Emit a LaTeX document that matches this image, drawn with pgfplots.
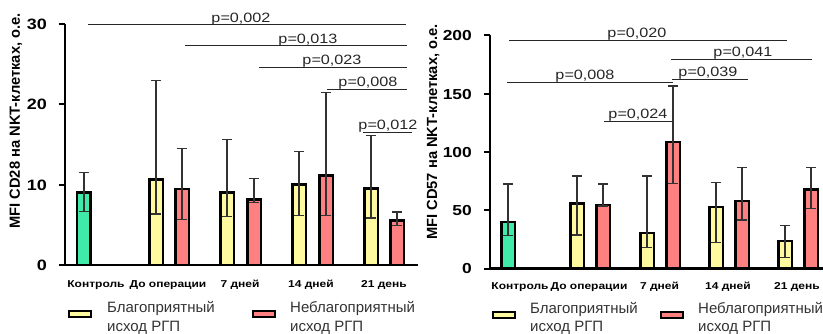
\documentclass[border=0pt]{standalone}
\usepackage{fontspec}
\setmainfont{Liberation Sans}
\newfontfamily\wf[FakeStretch=1.2]{Liberation Sans}
\usepackage{pgfplots}
\pgfplotsset{compat=1.18}
\definecolor{cgreen}{RGB}{64,235,170}
\definecolor{cyellow}{RGB}{255,250,160}
\definecolor{cred}{RGB}{255,128,128}
\definecolor{ebar}{RGB}{50,50,50}
\pgfplotsset{
 mystyle/.style={
  scale only axis, clip=false,
  axis x line*=bottom, axis y line*=left,
  axis line style={line width=2.3pt, -},
  xtick style={draw=none},
  ytick style={line width=2pt, black},
  tick align=outside, major tick length=6pt,
  /pgf/number format/assume math mode=true,
  yticklabel style={font=\wf\bfseries\fontsize{15}{15}\selectfont, anchor=base east, inner sep=0pt, xshift=-12pt, yshift=-5.4pt},
  xticklabel style={font=\wf\bfseries\fontsize{10}{10}\selectfont, anchor=base, inner sep=0pt},
  ylabel style={font=\bfseries\fontsize{14.7}{15}\selectfont, anchor=center},
 },
 mybar/.style={ybar, bar shift=0pt, bar width=13.5, draw=black, line width=2.5pt,
   error bars/y dir=both, error bars/y explicit,
   error bars/error bar style={line width=1.3pt, ebar},
   error bars/error mark options={rotate=90, line width=1.3pt, ebar, mark size=5pt}},
 pline/.style={line width=1.1pt, black!85},
}
\tikzset{legtext/.style={anchor=base west, inner sep=0pt, font=\fontsize{15}{15}\selectfont, text=black!80},
 ptext/.style={anchor=base, inner sep=0pt, yshift=2.5pt, font=\wf\fontsize{13.5}{14}\selectfont, text=black!85}}
\begin{document}
\begin{tikzpicture}
\useasboundingbox (0,0) rectangle (823pt,333pt);
% ---------------- left -----------------
\begin{axis}[mystyle, at={(65pt,68pt)}, anchor=south west,
  width=353pt, height=241pt, xmin=65, xmax=418, ymin=0, ymax=30,
  ytick={0,10,20,30},
  xtick={96,168,240,311,384},
  xticklabels={Контроль,До операции,7 дней,14 дней,21 день},
  xticklabel style={yshift=-16.5pt},
  ylabel={MFI CD28 на NKT-клетках, о.е.},
  ylabel style={at={(rel axis cs:-0.1388,0.5975)}}]
\addplot[mybar, fill=cgreen] coordinates {(84,9.05) += (0,2.45) -= (0,2.35)};
\addplot[mybar, fill=cyellow] coordinates {
 (156,10.65) += (0,12.35) -= (0,4.3)
 (227,9.05) += (0,6.55) -= (0,3.05)
 (299,10.05) += (0,4.05) -= (0,3.85)
 (371,9.55) += (0,6.55) -= (0,3.7)};
\addplot[mybar, fill=cred] coordinates {
 (182,9.45) += (0,5.05) -= (0,3.75)
 (254,8.15) += (0,2.65) -= (0,0.35)
 (326,11.15) += (0,10.35) -= (0,5.0)
 (397,5.55) += (0,1.05) -= (0,0.65)};
\addplot[pline] coordinates {(88,29.9) (406,29.9)};
\addplot[pline] coordinates {(185,27.3) (407,27.3)};
\addplot[pline] coordinates {(259,24.6) (407,24.6)};
\addplot[pline] coordinates {(327,21.9) (407,21.9)};
\addplot[pline] coordinates {(363,16.5) (412,16.5)};
\node[ptext] at (axis cs:241,29.9) {p=0,002};
\node[ptext] at (axis cs:308,27.3) {p=0,013};
\node[ptext] at (axis cs:332,24.6) {p=0,023};
\node[ptext] at (axis cs:368,21.9) {p=0,008};
\node[ptext] at (axis cs:388,16.5) {p=0,012};
\end{axis}
% ---------------- right -----------------
\begin{axis}[mystyle, at={(490pt,64.5pt)}, anchor=south west,
  width=333pt, height=233.2pt, xmin=490, xmax=823, ymin=0, ymax=200,
  ytick={0,50,100,150,200},
  yticklabel style={font=\wf\bfseries\fontsize{14.5}{15}\selectfont},
  xtick={520,589,659.5,728,797},
  xticklabels={Контроль,До операции,7 дней,14 дней,21 день},
  xticklabel style={yshift=-15pt},
  ylabel={MFI CD57 на NKT-клетках, о.е.},
  ylabel style={at={(rel axis cs:-0.171,0.585)}}]
\addplot[mybar, fill=cgreen] coordinates {(508,40) += (0,32.4) -= (0,11.9)};
\addplot[mybar, fill=cyellow] coordinates {
 (577,55.7) += (0,23.6) -= (0,27.0)
 (647,30.6) += (0,48.7) -= (0,12.5)
 (716,52.9) += (0,20.7) -= (0,30.5)
 (785,23.4) += (0,13.3) -= (0,13.8)};
\addplot[mybar, fill=cred] coordinates {
 (603,54.3) += (0,18.1) -= (0,0.7)
 (673,108.6) += (0,47.8) -= (0,35.6)
 (742,57.7) += (0,28.7) -= (0,16.1)
 (811,67.7) += (0,19.0) -= (0,16.1)};
\addplot[pline] coordinates {(509,195.9) (787,195.9)};
\addplot[pline] coordinates {(671,179.3) (812,179.3)};
\addplot[pline] coordinates {(507,159.6) (673,159.6)};
\addplot[pline] coordinates {(672,162.4) (748,162.4)};
\addplot[pline] coordinates {(604,126.4) (673,126.4)};
\node[ptext] at (axis cs:637,195.9) {p=0,020};
\node[ptext] at (axis cs:743,179.3) {p=0,041};
\node[ptext] at (axis cs:585,159.6) {p=0,008};
\node[ptext] at (axis cs:708,162.4) {p=0,039};
\node[ptext] at (axis cs:638,126.4) {p=0,024};
\end{axis}
% ---------------- legends -----------------
\draw[fill=cyellow, line width=2pt] (69pt,16pt) rectangle (91pt,22pt);
\draw[fill=cred, line width=2pt] (253pt,16pt) rectangle (275pt,22pt);
\node[legtext] at (107pt,20.3pt) {Благоприятный};
\node[legtext] at (107pt,2pt) {исход РГП};
\node[legtext] at (290pt,20.3pt) {Неблагоприятный};
\node[legtext] at (290pt,2pt) {исход РГП};
\draw[fill=cyellow, line width=2pt] (493pt,15.5pt) rectangle (515pt,21pt);
\draw[fill=cred, line width=2pt] (661pt,15.5pt) rectangle (683pt,21pt);
\node[legtext] at (530pt,19.7pt) {Благоприятный};
\node[legtext] at (530pt,2pt) {исход РГП};
\node[legtext] at (698pt,19.7pt) {Неблагоприятный};
\node[legtext] at (698pt,2pt) {исход РГП};
\end{tikzpicture}
\end{document}
